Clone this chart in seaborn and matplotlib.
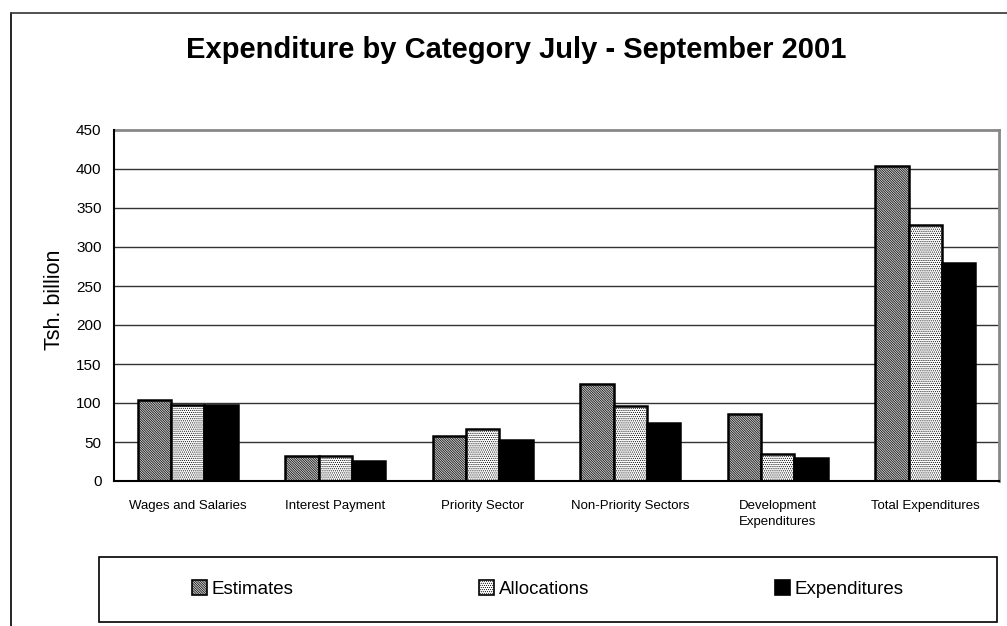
import matplotlib
matplotlib.use("Agg")
import matplotlib.pyplot as plt
from matplotlib.patches import Rectangle, Patch
from matplotlib.lines import Line2D
import seaborn as sns
import pandas as pd
import numpy as np

categories = ["Wages and Salaries", "Interest Payment", "Priority Sector",
              "Non-Priority Sectors", "Development\nExpenditures", "Total Expenditures"]
series = ["Estimates", "Allocations", "Expenditures"]
estimates = [103.6, 32.0, 57.7, 124.5, 86.0, 404.0]
allocations = [97.1, 32.0, 66.3, 96.7, 34.7, 328.0]
expenditures = [97.0, 25.7, 53.0, 74.4, 30.0, 279.0]
yticks = [0, 50, 100, 150, 200, 250, 300, 350, 400, 450]
title = "Expenditure by Category July - September 2001"
ylabel = "Tsh. billion"

sns.set_style("white")
plt.rcParams['font.family'] = ['Liberation Sans', 'DejaVu Sans']
plt.rcParams['hatch.linewidth'] = 0.5
plt.rcParams['text.color'] = 'black'
plt.rcParams['xtick.color'] = 'black'
plt.rcParams['ytick.color'] = 'black'

df = pd.DataFrame({
    "category": categories * 3,
    "series": [series[0]] * 6 + [series[1]] * 6 + [series[2]] * 6,
    "value": estimates + allocations + expenditures,
})

W, H = 1007, 626
fig = plt.figure(figsize=(W / 100, H / 100), dpi=100)
ax = fig.add_axes([114 / W, (H - 481) / H, (999 - 114) / W, (481 - 130) / H])

styles = {
    "Estimates": dict(face="#d0d0d0", hatch="\\" * 14, hcol="#383838"),
    "Allocations": dict(face="#ffffff", hatch="." * 8, hcol="#909090"),
    "Expenditures": dict(face="#000000", hatch="", hcol="#000000"),
}
palette = {s: styles[s]["face"] for s in series}

sns.barplot(data=df, x="category", y="value", hue="series", order=categories,
            hue_order=series, palette=palette, width=0.68, ax=ax,
            edgecolor="black", linewidth=1.8, saturation=1, legend=False, zorder=3)

for cont, s in zip(ax.containers, series):
    st = styles[s]
    for p in cont:
        p.set_hatch(st["hatch"])
        try:
            p.set_hatchcolor(st["hcol"])
        except AttributeError:
            pass

ax.set_ylim(0, 450)
ax.set_xlim(-0.5, 5.5)
ax.set_yticks(yticks)
ax.set_yticklabels([str(v) for v in yticks], fontsize=11)
for v in yticks[1:-1]:
    ax.axhline(v, color="#333333", lw=1.0, zorder=1)

ax.set_xticks(range(len(categories)))
ax.set_xticklabels(categories, fontsize=9.5, linespacing=1.45)
ax.tick_params(axis="x", which="major", length=0, pad=14)
ax.set_xticks(np.arange(-0.5, 6.0, 1.0), minor=True)
ax.tick_params(axis="x", which="minor", length=5, width=1, color="black", direction="out")
ax.tick_params(axis="y", length=5, width=1, color="black", direction="out", pad=4)
ax.set_xlabel("")
ax.set_ylabel("")

for side in ["top", "right"]:
    ax.spines[side].set_color("#888888")
    ax.spines[side].set_linewidth(2)
for side in ["left", "bottom"]:
    ax.spines[side].set_color("black")
    ax.spines[side].set_linewidth(1.5)
    ax.spines[side].set_zorder(4)

fig.text(516 / W, 1 - 50 / H, title, ha="center", va="center",
         fontsize=21, fontweight="bold", color="black")
fig.text(54 / W, 1 - 300 / H, ylabel, ha="center", va="center",
         rotation=90, fontsize=15.5, color="black")

# outer chart border (left and top)
fig.add_artist(Line2D([11 / W, 11 / W], [0, 1 - 13 / H], transform=fig.transFigure,
                      color="black", lw=1.2))
fig.add_artist(Line2D([11 / W, 1.0], [1 - 13 / H, 1 - 13 / H], transform=fig.transFigure,
                      color="#333333", lw=1.2))

# legend box
fig.add_artist(Rectangle((99 / W, (H - 622) / H), (997 - 99) / W, (622 - 557) / H,
                         transform=fig.transFigure, fill=False, edgecolor="black", lw=1.2))
handles = []
for s in series:
    st = styles[s]
    h = Patch(facecolor=st["face"], edgecolor="black", hatch=st["hatch"], lw=1.2, label=s)
    handles.append(h)
leg = fig.legend(handles=handles, loc="center", bbox_to_anchor=(548 / W, 1 - 589 / H),
                 ncol=3, frameon=False, fontsize=13.5, handlelength=0.8, handleheight=0.8,
                 handletextpad=0.25, columnspacing=9.9)
for h, s in zip(leg.legend_handles, series):
    try:
        h.set_hatchcolor(styles[s]["hcol"])
    except AttributeError:
        pass

fig.savefig("out.png", dpi=100)
